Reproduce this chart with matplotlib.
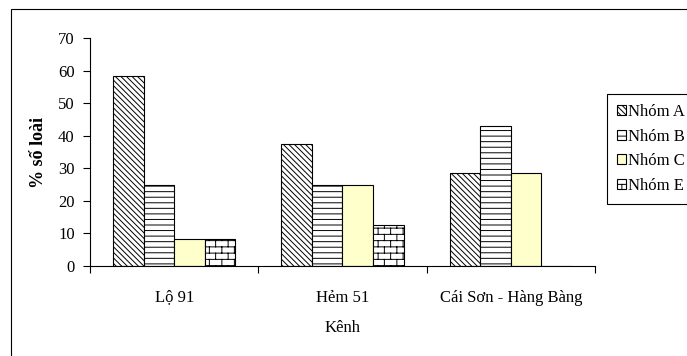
import warnings
import numpy as np
import matplotlib
matplotlib.use('Agg')
from matplotlib import pyplot as plt
from matplotlib import hatch as mhatch
from matplotlib.path import Path
from matplotlib.patches import Rectangle

warnings.filterwarnings('ignore', category=matplotlib.MatplotlibDeprecationWarning)


# brick pattern for "Nhom E" (not available in matplotlib)
class BrickHatch(mhatch.HatchPatternBase):
    def __init__(self, hatch, density):
        n = hatch.count('b')
        self.rows = 16 * n
        self.cols = 8 * n
        self.num_vertices = (self.rows + self.rows * self.cols) * 2

    def set_vertices_and_codes(self, vertices, codes):
        R, C = self.rows, self.cols
        k = 0
        for i in range(R):
            y = (i + 0.5) / R
            vertices[k] = (0.0, y)
            vertices[k + 1] = (1.0, y)
            k += 2
            for j in range(C):
                x = (j + 0.25 + 0.5 * (i % 2)) / C
                vertices[k] = (x, y)
                vertices[k + 1] = (x, y + 1.0 / R)
                k += 2
        codes[0::2] = Path.MOVETO
        codes[1::2] = Path.LINETO


mhatch._hatch_types.append(BrickHatch)

# data
kenh = ['Lộ 91', 'Hẻm 51', 'Cái Sơn - Hàng Bàng']
nhom = ['Nhóm A', 'Nhóm B', 'Nhóm C', 'Nhóm E']
nhom_a = [58.3, 37.5, 28.6]
nhom_b = [25.0, 25.0, 42.9]
nhom_c = [8.3, 25.0, 28.6]
nhom_e = [8.3, 12.5, 0.0]

plt.rcParams['font.family'] = ['Liberation Serif', 'DejaVu Serif']
plt.rcParams['font.size'] = 12
plt.rcParams['hatch.linewidth'] = 0.7

fig = plt.figure(figsize=(6.87, 3.56), dpi=100)
ax = fig.add_axes([0.131, 0.2528, 0.735, 0.6405])

x = np.arange(1, len(kenh) + 1)
w = 0.1815
series = [nhom_a, nhom_b, nhom_c, nhom_e]
hatches = ['\\' * 6, '---', None, 'b']
faces = ['white', 'white', '#FFFFCC', 'white']

for i, vals in enumerate(series):
    ax.bar(x + (i - 1.5) * w, vals, w, color=faces[i], edgecolor='black',
           linewidth=0.8, hatch=hatches[i], label=nhom[i])

ax.set_xlim(0.5, len(kenh) + 0.5)
ax.set_ylim(0, 70)
ax.set_yticks(range(0, 71, 10))

ax.set_xticks(np.arange(0.5, len(kenh) + 1, 1))
ax.set_xticklabels([])
ax.set_xticks(x, minor=True)
ax.set_xticklabels(kenh, minor=True)
ax.tick_params(axis='x', which='major', direction='out', length=5, width=0.8)
ax.tick_params(axis='x', which='minor', length=0, pad=17)
ax.tick_params(axis='y', direction='out', length=5, width=0.8, pad=6)

for s in ['top', 'right']:
    ax.spines[s].set_visible(False)
for s in ['left', 'bottom']:
    ax.spines[s].set_linewidth(0.8)

ax.set_ylabel('% số loài', fontweight='bold', fontsize=13, labelpad=8)
ax.set_xlabel('Kênh', labelpad=10)

leg = ax.legend(loc='upper left', bbox_to_anchor=(607 / 687, 1 - 94 / 356),
                bbox_transform=fig.transFigure, borderaxespad=0,
                fancybox=False, edgecolor='black', framealpha=1,
                handlelength=0.55, handleheight=0.55, handletextpad=0.1,
                labelspacing=0.52, borderpad=0.6)
leg.get_frame().set_linewidth(0.8)

# chart area frame
fig.add_artist(Rectangle((11 / 687, -0.1), 1.2, 1.1 - 9 / 356, fill=False,
                         edgecolor='black', linewidth=0.8,
                         transform=fig.transFigure))

fig.savefig('out.png', dpi=100)
